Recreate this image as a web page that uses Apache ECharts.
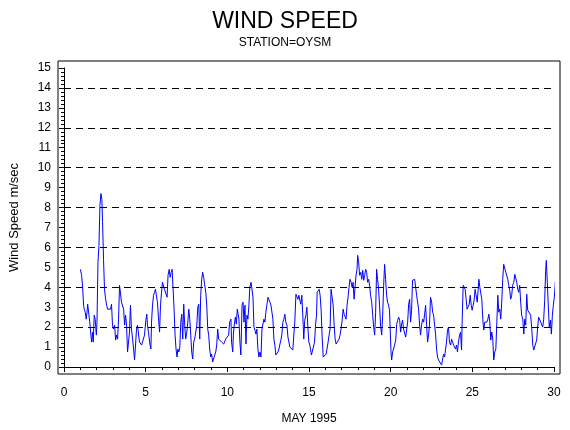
<!DOCTYPE html>
<html>
<head>
<meta charset="utf-8">
<script src="https://cdn.jsdelivr.net/npm/echarts@6/dist/echarts.min.js"></script>
<style>
  html, body { margin: 0; padding: 0; background: #fff; }
  #chart { width: 570px; height: 430px; }
</style>
</head>
<body>
<div id="chart"></div>
<script>
// readings, day of May 1995 and wind speed (m/sec)
const days = [
  1.00,1.08,1.14,1.20,1.24,1.30,1.36,1.41,1.45,1.51,1.57,1.63,1.69,1.75,1.79,1.85,1.91,1.98,2.02,2.08,
  2.14,2.20,2.26,2.32,2.36,2.42,2.48,2.55,2.61,2.67,2.73,2.79,2.85,2.91,2.97,3.03,3.10,3.16,3.22,3.28,
  3.34,3.40,3.46,3.52,3.58,3.65,3.71,3.77,3.83,3.89,3.95,4.01,4.07,4.13,4.20,4.26,4.32,4.38,4.44,4.50,
  4.56,4.62,4.68,4.75,4.81,4.87,4.93,
  5.01,5.07,5.11,5.17,5.23,5.27,5.32,5.36,5.42,5.48,5.54,5.60,5.66,5.72,5.78,5.85,5.91,5.97,6.03,6.09,
  6.15,6.21,6.27,6.31,6.37,6.44,6.50,6.56,6.62,6.68,6.74,6.80,6.86,6.92,6.97,7.03,7.09,7.15,7.21,7.27,
  7.33,7.39,7.45,7.52,7.58,7.64,7.70,7.76,7.82,7.88,7.94,8.00,8.07,8.13,8.19,8.25,8.31,8.37,8.43,8.49,
  8.55,8.61,8.68,8.74,8.80,8.86,8.92,8.98,9.04,9.10,9.17,9.23,9.29,9.35,9.41,9.47,9.53,9.59,9.65,9.71,
  9.78,9.84,9.90,9.96,10.02,10.08,10.14,
  10.22,10.26,10.33,10.37,10.43,10.49,10.55,10.61,10.65,10.71,10.77,10.83,10.90,10.96,11.02,11.08,11.14,11.20,11.26,11.32,
  11.38,11.45,11.51,11.57,11.63,11.69,11.75,11.81,11.87,11.93,12.00,12.06,12.12,12.18,12.24,12.30,12.36,12.42,12.49,12.55,
  12.61,12.67,12.73,12.79,12.85,12.91,12.97,13.03,13.10,13.16,13.22,13.28,13.34,13.40,13.46,13.52,13.58,13.65,13.71,13.77,
  13.83,13.89,13.95,14.01,14.07,14.13,14.20,14.26,14.32,14.38,14.44,14.50,14.56,14.62,14.68,14.74,14.81,14.87,14.93,14.99,
  15.05,
  15.09,15.15,15.21,15.27,15.34,15.40,15.46,15.50,15.56,15.62,15.68,15.74,15.80,15.87,15.93,15.99,16.05,16.11,16.17,16.23,
  16.29,16.35,16.41,16.48,16.54,16.60,16.66,16.72,16.78,16.84,16.90,16.96,17.03,17.09,17.15,17.21,17.27,17.33,17.39,17.45,
  17.51,17.58,17.64,17.70,17.76,17.82,17.88,17.94,17.98,18.04,18.10,18.17,18.23,18.29,18.35,18.41,18.47,18.53,18.59,18.65,
  18.71,18.77,18.84,18.90,18.96,19.02,19.08,19.14,19.20,19.26,19.32,19.38,19.45,19.51,19.57,19.63,19.69,19.75,19.81,19.87,
  19.93,
  20.02,20.06,20.12,20.18,20.24,20.31,20.37,20.43,20.49,20.55,20.61,20.67,20.73,20.79,20.86,20.92,20.98,21.04,21.10,21.16,
  21.22,21.28,21.34,21.41,21.47,21.53,21.59,21.65,21.71,21.77,21.83,21.89,21.96,22.02,22.08,22.14,22.20,22.26,22.32,22.38,
  22.44,22.51,22.57,22.63,22.69,22.75,22.81,22.87,22.93,22.99,23.05,23.12,23.18,23.24,23.30,23.36,23.42,23.48,23.54,23.60,
  23.67,23.73,23.79,23.85,23.91,23.97,24.03,24.09,24.15,24.22,24.28,24.34,24.38,24.44,24.50,24.56,24.62,24.68,24.75,24.81,
  24.87,24.93,24.99,25.05,25.11,25.17,25.23,25.30,25.36,25.40,25.46,25.52,25.58,25.64,25.70,25.76,25.82,25.89,25.95,26.01,
  26.07,26.13,26.19,26.25,26.31,26.37,26.44,26.50,26.56,26.62,26.68,26.74,26.80,26.86,26.92,26.99,27.05,27.11,27.17,27.23,
  27.29,27.35,27.41,27.47,27.54,27.60,27.66,27.72,27.78,27.84,27.90,27.96,28.02,28.09,28.15,28.21,28.27,28.33,28.39,28.45,
  28.51,28.57,28.64,28.70,28.76,28.82,28.88,28.94,29.00,29.06,29.12,29.19,29.25,29.31,29.37,29.43,29.49,29.53,29.59,29.65,
  29.71,29.78,29.84,29.90,29.96,30.02,30.08,30.12
];
const speeds = [
  4.9,4.6,4.0,3.1,2.9,2.75,2.4,2.75,3.15,3.25,2.3,1.75,1.25,1.75,1.25,2.6,2.4,1.6,2.25,5.25,
  6.1,8.1,8.7,8.4,7.3,5.4,3.9,3.4,3.1,2.9,2.8,3.0,2.9,3.15,2.1,1.9,2.1,1.35,1.6,1.4,
  2.4,4.1,4.1,3.25,3.15,2.9,2.1,2.6,2.1,0.75,0.8,1.75,3.1,1.9,1.4,0.9,0.35,1.1,1.9,2.1,
  2.0,1.25,1.15,1.1,1.0,1.15,1.6,
  2.35,2.65,2.1,1.75,1.65,1.1,0.9,2.25,3.1,3.6,3.75,3.9,4.0,3.25,2.5,1.75,3.1,3.75,4.25,4.35,
  3.9,3.9,4.0,3.5,4.6,4.9,4.5,4.75,4.9,5.0,2.9,1.6,0.9,0.5,0.9,0.75,1.0,2.25,2.65,1.4,
  3.15,2.1,1.4,1.75,2.25,2.9,2.4,1.6,0.75,0.4,1.25,1.4,1.5,2.1,3.0,3.15,1.4,3.6,4.4,4.75,
  4.5,4.15,3.75,3.1,1.9,1.6,0.9,0.5,0.65,0.25,0.35,0.6,0.75,1.1,1.9,1.4,1.35,1.4,1.25,1.15,
  1.15,1.25,1.4,1.5,1.4,1.6,2.25,
  2.4,1.25,0.75,1.65,2.15,2.5,2.15,2.9,3.0,2.4,1.25,0.6,3.1,3.25,2.25,3.1,1.15,2.6,2.4,3.1,
  4.0,4.25,3.9,3.5,2.0,1.85,1.65,1.9,0.9,0.5,0.75,0.5,1.9,2.0,2.4,2.25,2.75,3.1,3.5,3.6,
  3.25,3.1,2.75,2.4,1.4,1.1,0.6,0.6,0.75,0.9,1.15,1.35,1.65,2.25,2.4,2.65,2.25,2.1,1.5,1.25,
  1.0,0.9,1.0,0.85,1.6,2.25,3.65,3.6,3.4,3.6,3.35,3.15,3.6,2.6,1.4,2.35,2.6,3.0,2.0,1.25,
  1.1,
  0.9,0.6,0.5,0.65,1.25,2.1,2.6,3.75,3.85,3.9,3.6,2.9,1.6,0.5,0.6,0.6,0.65,0.75,1.25,1.6,
  1.9,3.9,4.0,3.1,2.1,1.4,1.15,1.1,1.1,1.4,1.6,1.9,2.35,2.9,2.65,2.75,2.4,3.1,3.5,4.0,
  4.4,4.25,4.0,4.25,3.4,3.5,4.6,4.9,5.6,5.25,4.6,4.75,4.4,4.85,4.35,4.6,4.9,4.75,4.25,4.4,
  4.1,3.6,3.25,2.6,2.0,1.6,2.75,4.9,4.4,3.9,3.1,2.1,1.6,2.6,4.1,5.15,4.4,3.6,3.25,3.1,
  2.85,
  0.75,0.35,0.75,0.65,1.1,1.35,2.15,2.35,2.5,2.35,1.75,2.15,2.35,1.9,2.0,1.5,1.4,2.25,3.15,3.4,
  2.25,2.85,4.35,4.25,4.4,4.5,3.6,3.5,2.9,2.1,1.6,2.1,2.4,2.25,2.65,3.1,2.1,1.25,1.6,2.15,
  3.5,3.25,2.75,2.6,2.1,1.65,0.9,0.5,0.35,0.4,0.35,0.1,0.4,0.65,0.5,0.6,1.25,1.85,2.0,1.25,
  1.1,1.4,1.5,1.1,1.0,0.9,1.1,0.75,1.25,1.6,1.75,0.85,2.4,4.1,4.0,3.9,3.4,2.9,2.85,3.15,
  3.6,3.1,2.85,2.85,3.35,3.9,4.0,3.25,3.9,4.4,4.0,3.9,3.4,2.4,1.85,2.25,2.15,2.25,2.4,2.65,
  2.25,1.35,1.75,1.4,0.35,0.75,0.9,2.25,3.6,2.75,2.9,2.4,3.25,4.4,5.15,5.1,4.75,4.85,4.4,4.1,
  3.85,3.4,3.6,4.1,4.25,4.65,4.75,4.25,3.9,3.75,4.1,3.25,2.6,2.4,1.65,2.4,2.1,3.65,2.85,2.85,
  2.75,2.6,1.9,1.1,0.85,0.85,0.75,1.35,2.0,2.5,2.4,2.25,2.15,2.0,2.4,3.35,4.85,5.35,4.25,3.1,
  2.0,2.35,1.65,2.6,3.1,3.5,4.25,4.0
];
// dashed reference levels
const gridLevels = [0, 2, 4, 6, 8, 10, 12, 14];

const font = "Liberation Sans";
const chart = echarts.init(document.getElementById("chart"), null, { renderer: "canvas" });

const option = {
  animation: false,
  backgroundColor: "#fff",
  title: {
    text: "WIND SPEED",
    subtext: "STATION=OYSM",
    left: "center",
    top: 5,
    itemGap: 4,
    textStyle: { fontFamily: font, fontSize: 23, fontWeight: "normal", color: "#000" },
    subtextStyle: { fontFamily: font, fontSize: 12, color: "#000" },
  },
  grid: { left: 63, right: 16, top: 68, bottom: 62 },
  graphic: [
    {
      type: "rect",
      shape: { x: 58, y: 61, width: 502, height: 313 },
      style: { fill: "none", stroke: "#000", lineWidth: 1 },
      silent: true,
    },
  ],
  xAxis: {
    type: "value",
    min: 0,
    max: 30,
    interval: 5,
    offset: 6,
    name: "MAY 1995",
    nameLocation: "middle",
    nameGap: 40,
    nameTextStyle: { fontFamily: font, fontSize: 12, color: "#000" },
    axisLine: { show: true, lineStyle: { color: "#000", width: 1 } },
    axisTick: { show: true, length: 5, lineStyle: { color: "#000" } },
    minorTick: { show: true, splitNumber: 5, length: 3, lineStyle: { color: "#000" } },
    axisLabel: { fontFamily: font, fontSize: 12, color: "#000", margin: 14 },
    splitLine: { show: false },
  },
  yAxis: {
    type: "value",
    min: 0,
    max: 15,
    interval: 1,
    offset: 5,
    name: "Wind Speed m/sec",
    nameLocation: "middle",
    nameRotate: 90,
    nameGap: 38,
    nameTextStyle: { fontFamily: font, fontSize: 13, color: "#000" },
    axisLine: { show: true, lineStyle: { color: "#000", width: 1 } },
    axisTick: { show: true, length: 5, lineStyle: { color: "#000" } },
    minorTick: { show: true, splitNumber: 5, length: 3, lineStyle: { color: "#000" } },
    axisLabel: { fontFamily: font, fontSize: 12, color: "#000", margin: 8 },
    splitLine: { show: false },
  },
  series: [
    {
      type: "line",
      data: days.map((d, i) => [d, speeds[i]]),
      showSymbol: false,
      lineStyle: { color: "#0000ff", width: 1 },
      markLine: {
        silent: true,
        symbol: ["none", "none"],
        label: { show: false },
        lineStyle: { color: "#000", type: [7, 5], width: 1 },
        data: gridLevels.map((v) => ({ yAxis: v })),
      },
    },
  ],
};

chart.setOption(option);
</script>
</body>
</html>
